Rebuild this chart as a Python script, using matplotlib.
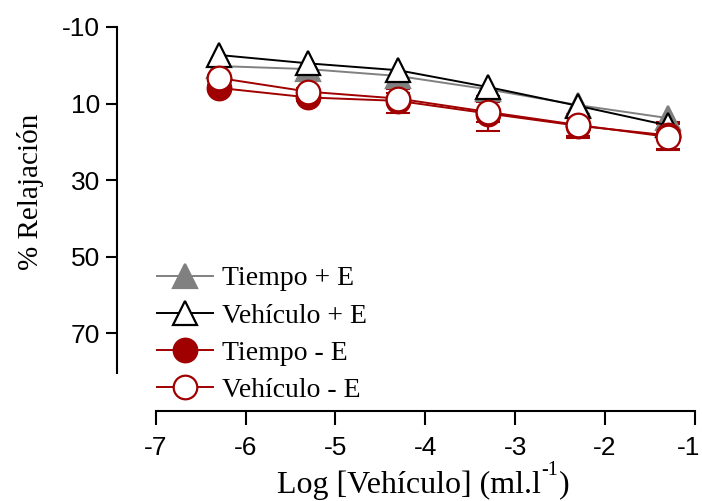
import matplotlib
matplotlib.use("Agg")
import matplotlib.pyplot as plt
from matplotlib.transforms import ScaledTranslation

plt.rcParams["axes.unicode_minus"] = False

log_dose = [-6.3, -5.3, -4.3, -3.3, -2.3, -1.3]

# triangles: SEM smaller than the symbol, so no bars are visible
tiempo_pos = [0.2, 1.0, 2.8, 6.3, 10.4, 13.8]
vehiculo_pos = [-2.7, -0.5, 1.3, 5.7, 10.6, 15.7]
tiempo_neg = [5.9, 8.4, 9.3, 12.6, 15.8, 18.3]
tiempo_neg_err = [0.8, 1.0, 3.2, 4.5, 3.1, 3.6]
vehiculo_neg = [3.3, 6.9, 8.7, 12.2, 15.6, 18.7]
vehiculo_neg_err = [0.8, 1.0, 1.5, 2.5, 2.8, 3.3]

labels = ["Tiempo + E", "Vehículo + E", "Tiempo - E", "Vehículo - E"]
yticks = [-10, 10, 30, 50, 70]
xticks = [-7, -6, -5, -4, -3, -2, -1]

RED = "#a00000"
GRAY = "#808080"

# (values, errors, colour, marker, face)
series = [
    (tiempo_pos, None, GRAY, "^", GRAY),
    (vehiculo_pos, None, "black", "^", "white"),
    (tiempo_neg, tiempo_neg_err, RED, "o", RED),
    (vehiculo_neg, vehiculo_neg_err, RED, "o", "white"),
]

fig = plt.figure(figsize=(7.02, 5.01), dpi=100)
ax = fig.add_axes([117 / 702, 90 / 501, 578 / 702, 384 / 501])

# error bars go underneath everything
for vals, err, col, mk, face in series:
    if err is not None:
        ax.errorbar(log_dose, vals, yerr=err, fmt="none", ecolor=col,
                    elinewidth=1.5, capsize=8.5, capthick=1.5, zorder=1)

for i, (vals, err, col, mk, face) in enumerate(series):
    ax.plot(log_dose, vals, color=col, lw=1.4, marker=mk, markersize=17,
            markerfacecolor=face, markeredgecolor=col, markeredgewidth=1.6,
            label=labels[i], zorder=2 + i)

ax.set_xlim(-7.43, -1.0)
ax.set_ylim(90.3, -10)

for side in ("top", "right"):
    ax.spines[side].set_visible(False)
ax.spines["left"].set_bounds(80.4, -10)
ax.spines["bottom"].set_bounds(-7, -1)
for side in ("left", "bottom"):
    ax.spines[side].set_linewidth(1.5)

ax.set_yticks(yticks)
ax.set_xticks(xticks)
ax.tick_params(axis="y", length=8, width=1.5, pad=4, labelsize=19)
ax.tick_params(axis="x", length=10, width=1.5, pad=8, labelsize=19)
for t in ax.get_xticklabels() + ax.get_yticklabels():
    t.set_fontfamily("Liberation Sans")
# last x label sits a bit left of its tick, like the original
lab = ax.xaxis.get_major_ticks()[-1].label1
lab.set_transform(lab.get_transform() + ScaledTranslation(-6 / 100, 0, fig.dpi_scale_trans))

ax.set_ylabel("% Relajación", fontsize=21, fontfamily="Liberation Serif", va="center")
ax.yaxis.set_label_coords(-0.15, 0.572)

# x label with a plain hyphen in the superscript
serif = "Liberation Serif"
main = fig.text(277 / 702, 1.5 / 501, "Log [Vehículo] (ml.l", fontsize=23,
                fontfamily=serif, va="bottom", ha="left")
sup = ax.annotate("-1", xy=(1, 0), xycoords=main, xytext=(0.5, 17.5),
                  textcoords="offset points", fontsize=14.5, fontfamily=serif,
                  va="baseline", ha="left", annotation_clip=False)
ax.annotate(")", xy=(1, 0), xycoords=(sup, main), fontsize=23, fontfamily=serif,
            va="bottom", ha="left", annotation_clip=False)

leg = ax.legend(loc="upper left", bbox_to_anchor=(157 / 702, 1 - 266 / 501),
                bbox_transform=fig.transFigure, frameon=False,
                prop={"family": serif, "size": 20},
                handlelength=2.0, handletextpad=0.35, labelspacing=0.42,
                borderpad=0, borderaxespad=0)

fig.savefig("out.png", dpi=100)
